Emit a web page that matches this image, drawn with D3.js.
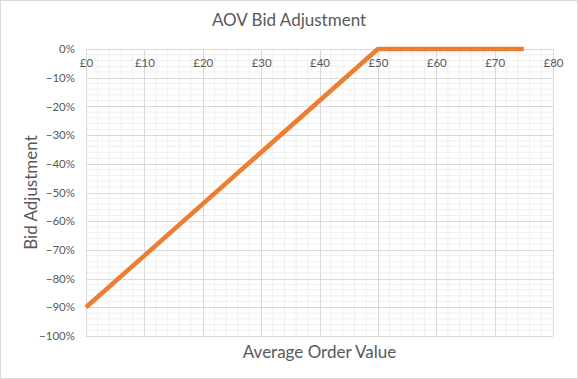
<!DOCTYPE html>
<html>
<head>
<meta charset="utf-8">
<script src="https://cdn.jsdelivr.net/npm/d3@7"></script>
<style>
  body { margin: 0; background: #fff; }
  svg { display: block; font-family: Lato, "Open Sans", sans-serif; }
</style>
</head>
<body>
<svg></svg>
<script>
// data
const aov = [0, 50, 75];
const bidAdj = [-0.9, 0, 0];
const xTicks = [0, 10, 20, 30, 40, 50, 60, 70, 80];
const yTicks = [0, -0.1, -0.2, -0.3, -0.4, -0.5, -0.6, -0.7, -0.8, -0.9, -1];

const W = 578, H = 379;
const plotLeft = 86, plotRight = 553, plotTop = 49, plotBottom = 336;

const svg = d3.select("svg").attr("width", W).attr("height", H);

// chart border
svg.append("rect")
  .attr("x", 0.5).attr("y", 0.5)
  .attr("width", W - 1).attr("height", H - 1)
  .attr("fill", "#fff").attr("stroke", "#d9d9d9");

const x = d3.scaleLinear().domain([0, 80]).range([plotLeft, plotRight]);
const y = d3.scaleLinear().domain([-1, 0]).range([plotBottom, plotTop]);

// minor grid
const minorX = d3.range(0, 81, 2).filter(v => v % 10 !== 0);
const minorY = d3.range(-100, 1, 2).filter(v => v % 10 !== 0).map(v => v / 100);

svg.append("g").selectAll("line")
  .data(minorX).enter().append("line")
  .attr("x1", d => x(d)).attr("x2", d => x(d))
  .attr("y1", plotTop).attr("y2", plotBottom)
  .attr("stroke", "#efefef").attr("stroke-width", 1);

svg.append("g").selectAll("line")
  .data(minorY).enter().append("line")
  .attr("x1", plotLeft).attr("x2", plotRight)
  .attr("y1", d => y(d)).attr("y2", d => y(d))
  .attr("stroke", "#efefef").attr("stroke-width", 1);

// major grid
svg.append("g").selectAll("line")
  .data(xTicks).enter().append("line")
  .attr("x1", d => Math.round(x(d)) + 0.5).attr("x2", d => Math.round(x(d)) + 0.5)
  .attr("y1", plotTop).attr("y2", plotBottom)
  .attr("stroke", "#d9d9d9").attr("stroke-width", 1);

svg.append("g").selectAll("line")
  .data(yTicks).enter().append("line")
  .attr("x1", plotLeft).attr("x2", plotRight)
  .attr("y1", d => Math.round(y(d)) + 0.5).attr("y2", d => Math.round(y(d)) + 0.5)
  .attr("stroke", "#d9d9d9").attr("stroke-width", 1);

// y axis labels
const yAxis = svg.append("g")
  .attr("transform", `translate(${plotLeft}, 0)`)
  .call(d3.axisLeft(y).tickValues(yTicks).tickFormat(d3.format(".0%")).tickSize(0).tickPadding(11));
yAxis.select(".domain").remove();
yAxis.selectAll("text")
  .attr("font-family", "Lato, sans-serif")
  .attr("font-size", "11.5px")
  .attr("fill", "#595959");

// x axis labels (axis crosses at 0%)
const xAxis = svg.append("g")
  .attr("transform", `translate(0, ${y(0)})`)
  .call(d3.axisBottom(x).tickValues(xTicks).tickFormat(d => "£" + d).tickSize(0).tickPadding(10));
xAxis.select(".domain").remove();
xAxis.selectAll("text")
  .attr("font-family", "Lato, sans-serif")
  .attr("font-size", "11.5px")
  .attr("fill", "#595959");

// line
const line = d3.line()
  .x((d, i) => x(aov[i]))
  .y(d => y(d));

svg.append("path")
  .attr("d", line(bidAdj))
  .attr("fill", "none")
  .attr("stroke", "#ed7d31")
  .attr("stroke-width", 4.5)
  .attr("stroke-linejoin", "round");

// title
svg.append("text")
  .attr("x", 289).attr("y", 26)
  .attr("text-anchor", "middle")
  .attr("font-size", "17px")
  .attr("fill", "#595959")
  .text("AOV Bid Adjustment");

// axis titles
svg.append("text")
  .attr("x", (plotLeft + plotRight) / 2).attr("y", 358)
  .attr("text-anchor", "middle")
  .attr("font-size", "17px")
  .attr("fill", "#595959")
  .text("Average Order Value");

svg.append("text")
  .attr("transform", "rotate(-90)")
  .attr("x", -(plotTop + plotBottom) / 2).attr("y", 37)
  .attr("text-anchor", "middle")
  .attr("font-size", "17px")
  .attr("fill", "#595959")
  .text("Bid Adjustment");
</script>
</body>
</html>
